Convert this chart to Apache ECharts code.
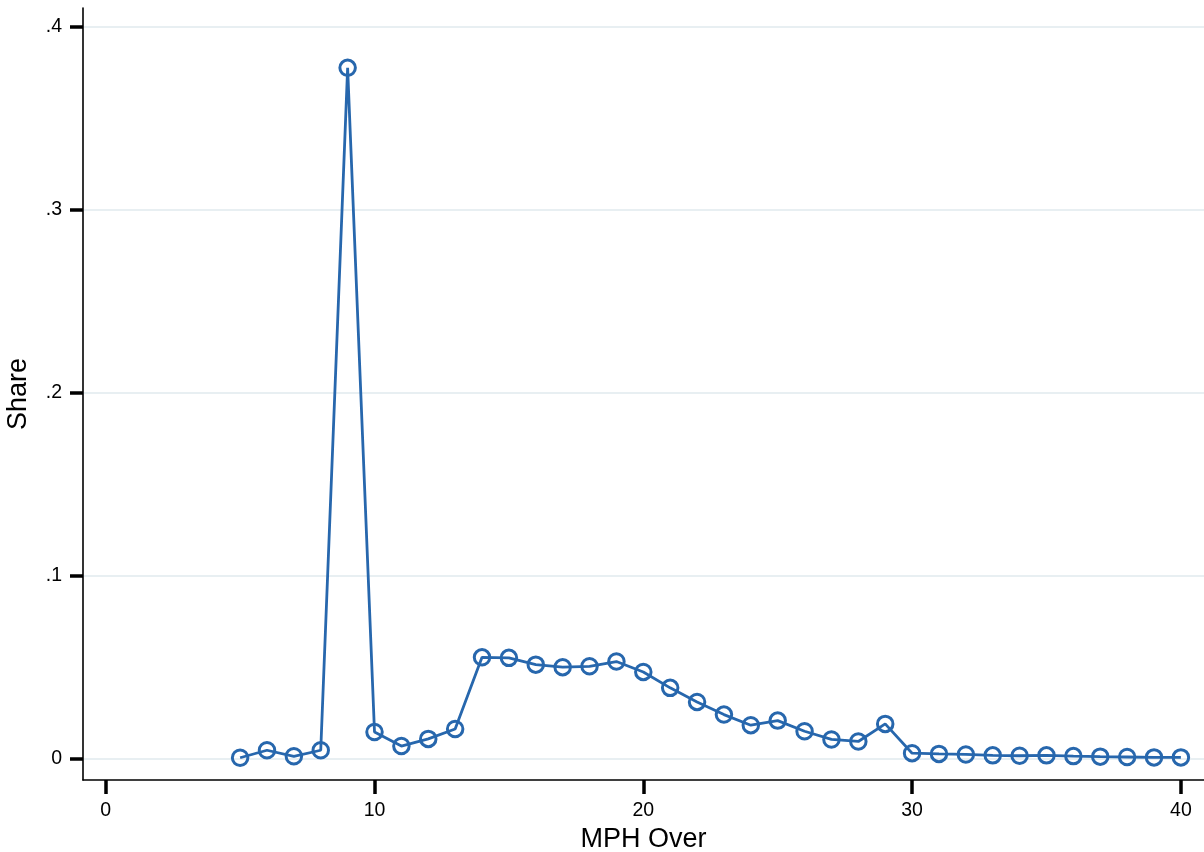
<!DOCTYPE html>
<html>
<head>
<meta charset="utf-8">
<script src="https://cdn.jsdelivr.net/npm/echarts@6/dist/echarts.min.js"></script>
<style>
  html, body { margin: 0; padding: 0; background: #fff; }
  #chart { width: 1204px; height: 852px; }
</style>
</head>
<body>
<div id="chart"></div>
<script>
// Speed over the limit (mph) and the share of tickets at each value
const mphOver = [5, 6, 7, 8, 9, 10, 11, 12, 13, 14, 15, 16, 17, 18, 19, 20, 21, 22,
  23, 24, 25, 26, 27, 28, 29, 30, 31, 32, 33, 34, 35, 36, 37, 38, 39, 40];
const share = [0.0003, 0.0044, 0.0011, 0.0044, 0.3774, 0.0144, 0.0067, 0.0106, 0.016,
  0.0552, 0.0549, 0.0512, 0.0498, 0.0503, 0.0529, 0.0472, 0.0385, 0.0308,
  0.0239, 0.0181, 0.0206, 0.0148, 0.0103, 0.0092, 0.0188, 0.0028, 0.0024,
  0.0021, 0.0016, 0.0014, 0.0016, 0.0012, 0.0009, 0.0007, 0.0005, 0.0005];
const xTicks = [0, 10, 20, 30, 40];
const yTicks = [0, 0.1, 0.2, 0.3, 0.4];

const blue = '#2767ad';
const font = 'Liberation Sans, Arial, Helvetica, sans-serif';

const chart = echarts.init(document.getElementById('chart'), null, { renderer: 'canvas' });
chart.setOption({
  animation: false,
  backgroundColor: '#ffffff',
  grid: { left: 83, right: 0, top: 8, bottom: 72, outerBoundsMode: 'none', containLabel: false },
  xAxis: {
    type: 'value',
    min: -0.845,
    max: 40.86,
    name: 'MPH Over',
    nameLocation: 'middle',
    nameGap: 45,
    nameTextStyle: { fontFamily: font, fontSize: 27, color: '#000' },
    axisLine: { show: true, onZero: false, lineStyle: { color: '#000', width: 1.6 } },
    axisTick: { show: true, customValues: xTicks, length: 14, lineStyle: { color: '#000', width: 3.5 } },
    axisLabel: {
      customValues: xTicks, fontFamily: font, fontSize: 19.5, color: '#000', margin: 21,
      formatter: v => String(v)
    },
    splitLine: { show: false }
  },
  yAxis: {
    type: 'value',
    min: -0.01186,
    max: 0.4101,
    name: 'Share',
    nameLocation: 'middle',
    nameGap: 51,
    nameRotate: 90,
    nameTextStyle: { fontFamily: font, fontSize: 27, color: '#000' },
    axisLine: { show: true, onZero: false, lineStyle: { color: '#000', width: 1.6 } },
    axisTick: { show: true, customValues: yTicks, length: 13, lineStyle: { color: '#000', width: 3.5 } },
    axisLabel: {
      customValues: yTicks, fontFamily: font, fontSize: 19.5, color: '#000', margin: 21,
      formatter: v => (v === 0 ? '0' : String(Math.round(v * 10) / 10).replace(/^0/, ''))
    },
    splitLine: { show: true, lineStyle: { color: '#e8eff2', width: 2 } }
  },
  series: [{
    type: 'line',
    data: mphOver.map((x, i) => [x, share[i]]),
    symbol: 'circle',
    symbolSize: 15.5,
    showAllSymbol: true,
    lineStyle: { color: blue, width: 2.8 },
    itemStyle: { color: 'rgba(0,0,0,0)', borderColor: blue, borderWidth: 3 },
    emphasis: { disabled: true },
    z: 3
  }]
});
</script>
</body>
</html>
